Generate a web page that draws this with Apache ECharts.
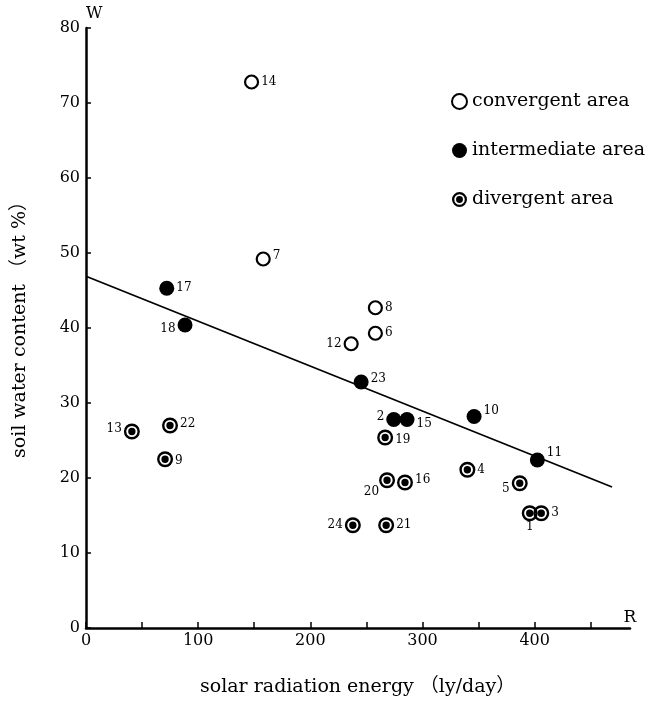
<!DOCTYPE html>
<html>
<head>
<meta charset="utf-8">
<script src="https://cdn.jsdelivr.net/npm/echarts@6/dist/echarts.min.js"></script>
<style>
  html, body { margin: 0; padding: 0; background: #fff; }
  #chart { width: 661px; height: 703px; }
</style>
</head>
<body>
<div id="chart"></div>
<script>
// point numbers, solar radiation (ly/day), soil water content (wt %)
const convIds = [14, 7, 8, 6, 12]
const convX = [147.6, 158, 258, 258, 236.4]
const convY = [72.8, 49.2, 42.7, 39.3, 37.9]

const midIds = [17, 18, 23, 2, 15, 10, 11]
const midX = [72, 88.3, 245.3, 274.4, 286.2, 346, 402.4]
const midY = [45.3, 40.4, 32.8, 27.8, 27.8, 28.2, 22.4]

const divIds = [13, 22, 9, 19, 20, 16, 4, 5, 1, 3, 24, 21]
const divX = [40.9, 74.9, 70.5, 266.7, 268.4, 284.4, 340, 386.7, 395.6, 405.9, 237.9, 267.6]
const divY = [26.2, 27.0, 22.5, 25.4, 19.7, 19.4, 21.1, 19.3, 15.3, 15.3, 13.7, 13.7]

// regression line end points
const fitX = [0, 469]
const fitY = [46.9, 18.8]

const xTicks = [0, 100, 200, 300, 400]
const yTicks = [0, 10, 20, 30, 40, 50, 60, 70, 80]

const serif = '"DejaVu Serif", "Noto Sans CJK JP", serif'

// where each number sits relative to its marker
const labelPlace = {
  12: { position: 'left' },
  18: { position: 'left', offset: [0, 4] },
  2: { position: 'left', offset: [0, -3] },
  15: { offset: [0, 4] },
  10: { offset: [0, -6] },
  11: { offset: [0, -7] },
  7: { offset: [0, -3] },
  23: { offset: [0, -3] },
  19: { offset: [0, 2] },
  16: { offset: [0, -3] },
  20: { position: 'left', offset: [2, 12] },
  5: { position: 'left', offset: [0, 6] },
  1: { position: 'bottom', distance: 0 },
  24: { position: 'left' },
  13: { position: 'left', offset: [0, -3] },
  22: { offset: [0, -2] },
  9: { offset: [0, 2] },
}

const makeData = (ids, xs, ys) => ids.map((id, i) => {
  const item = { value: [xs[i], ys[i], id] }
  if (labelPlace[id]) item.label = labelPlace[id]
  return item
})

// ring with a dot in the middle
const ringDot = 'path://M0,-10A10,10 0 1 1 0,10A10,10 0 1 1 0,-10Z' +
  'M0,-7A7,7 0 1 0 0,7A7,7 0 1 0 0,-7Z' +
  'M0,-4.6A4.6,4.6 0 1 1 0,4.6A4.6,4.6 0 1 1 0,-4.6Z'

const pointLabel = {
  show: true,
  position: 'right',
  distance: 2,
  formatter: (p) => p.value[2],
  fontFamily: serif,
  fontSize: 12,
  color: '#000',
}

const chart = echarts.init(document.getElementById('chart'))
chart.setOption({
  animation: false,
  backgroundColor: '#fff',
  grid: { left: 86, right: 31, top: 28, bottom: 75 },
  legend: {
    orient: 'vertical',
    left: 451,
    top: 92,
    itemWidth: 15,
    itemHeight: 15,
    itemGap: 30,
    padding: 0,
    textStyle: { fontFamily: serif, fontSize: 19, color: '#000' },
    data: ['convergent area', 'intermediate area', 'divergent area'],
  },
  xAxis: {
    type: 'value',
    min: 0,
    max: 485,
    interval: 50,
    name: 'R',
    nameLocation: 'end',
    nameGap: 0,
    nameTextStyle: { fontFamily: serif, fontSize: 17, color: '#000', align: 'center', verticalAlign: 'bottom', padding: [0, 0, 2, 0] },
    axisLine: { onZero: false, lineStyle: { color: '#000', width: 2.5 } },
    axisTick: { inside: true, length: 6, lineStyle: { color: '#000', width: 1.5 } },
    axisLabel: {
      margin: 5,
      fontFamily: serif,
      fontSize: 16,
      color: '#000',
      showMaxLabel: false,
      formatter: (v) => (xTicks.indexOf(v) >= 0 ? v : ''),
    },
    splitLine: { show: false },
  },
  yAxis: {
    type: 'value',
    min: 0,
    max: 80,
    interval: 10,
    name: 'W',
    nameGap: 6,
    nameTextStyle: { fontFamily: serif, fontSize: 16, color: '#000', align: 'left' },
    axisLine: { onZero: false, lineStyle: { color: '#000', width: 2.5 } },
    axisTick: { inside: true, length: 5, lineStyle: { color: '#000', width: 1.5 } },
    axisLabel: {
      margin: 6,
      fontFamily: serif,
      fontSize: 16,
      color: '#000',
      formatter: (v) => (yTicks.indexOf(v) >= 0 ? v : ''),
    },
    splitLine: { show: false },
  },
  series: [
    {
      name: 'fit',
      type: 'line',
      data: fitX.map((x, i) => [x, fitY[i]]),
      symbol: 'none',
      lineStyle: { color: '#000', width: 1.8 },
      z: 1,
    },
    {
      name: 'convergent area',
      type: 'scatter',
      data: makeData(convIds, convX, convY),
      symbol: 'circle',
      symbolSize: 13,
      itemStyle: { color: '#fff', borderColor: '#000', borderWidth: 2.2, opacity: 1 },
      label: pointLabel,
      z: 3,
    },
    {
      name: 'intermediate area',
      type: 'scatter',
      data: makeData(midIds, midX, midY),
      symbol: 'circle',
      symbolSize: 15,
      itemStyle: { color: '#000', opacity: 1 },
      label: pointLabel,
      z: 3,
    },
    {
      name: 'divergent area',
      type: 'scatter',
      data: makeData(divIds, divX, divY),
      symbol: ringDot,
      symbolSize: 16,
      itemStyle: { color: '#000', opacity: 1 },
      label: pointLabel,
      z: 3,
    },
  ],
  graphic: [
    {
      type: 'text',
      left: 200,
      top: 678,
      style: { text: 'solar radiation energy （ly/day）', font: '19px ' + serif, fill: '#000' },
    },
    {
      type: 'text',
      x: 20,
      y: 325,
      rotation: Math.PI / 2,
      style: { text: 'soil water content （wt %）', font: '19px ' + serif, fill: '#000', align: 'center', verticalAlign: 'middle' },
    },
  ],
})
</script>
</body>
</html>
